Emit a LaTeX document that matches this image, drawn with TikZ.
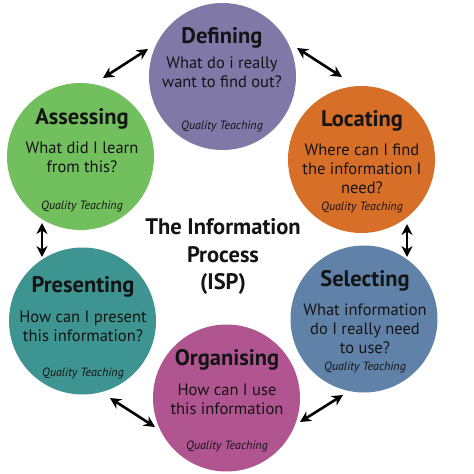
\documentclass[tikz,border=0pt]{standalone}
\usepackage{fontspec}
\setmainfont{PT Sans}
\usetikzlibrary{arrows.meta}
\definecolor{cdef}{HTML}{8079A8}
\definecolor{cass}{HTML}{72BF5D}
\definecolor{cloc}{HTML}{D86F28}
\definecolor{csel}{HTML}{6182A8}
\definecolor{corg}{HTML}{B05590}
\definecolor{cpre}{HTML}{3E9491}
\definecolor{ink}{HTML}{141414}
\begin{document}
\begin{tikzpicture}[x=1pt,y=-1pt,
  stage/.style={circle,minimum size=147pt,inner sep=0pt,fill=#1},
  ttl/.style={text=ink,inner sep=0pt,font=\bfseries\fontsize{22.5}{24}\selectfont},
  body/.style={text=ink,inner sep=0pt,align=center,font=\fontsize{16.5}{19}\selectfont},
  qt/.style={text=ink,inner sep=0pt,font=\itshape\fontsize{12}{14}\selectfont},
  center title/.style={text=ink,inner sep=0pt,align=center,font=\bfseries\fontsize{22.5}{27.5}\selectfont},
  dbl/.style={{Stealth[length=11pt,width=11pt]}-{Stealth[length=11pt,width=11pt]},line width=2.6pt}]
\useasboundingbox (0,0) rectangle (474,474);
\fill[white] (0,0) rectangle (474,474);
% circles
\node[stage=cdef] (def) at (222.5,76.5) {};
\node[stage=cass] (ass) at (80.5,156.5) {};
\node[stage=cloc] (loc) at (361.5,159.5) {};
\node[stage=cpre] (pre) at (82.5,321) {};
\node[stage=csel] (sel) at (364,319) {};
\node[stage=corg] (org) at (226.5,398) {};
% Defining
\node[ttl] (defT) at (222,38) {Defining};
\node[body] (defB) at (222,72.5) {What do i really\\want to find out?};
\node[qt] (defQ) at (222,126) {Quality Teaching};
% Assessing
\node[ttl] (assT) at (82,119) {Assessing};
\node[body] (assB) at (82,157.5) {What did I learn\\from this?};
\node[qt] (assQ) at (82,206) {Quality Teaching};
% Locating
\node[ttl] (locT) at (362,121) {Locating};
\node[body] (locB) at (362,169) {Where can I find\\the information I\\need?};
\node[qt] (locQ) at (362,207) {Quality Teaching};
% Presenting
\node[ttl] (preT) at (83,287) {Presenting};
\node[body] (preB) at (83,326) {How can I present\\this information?};
\node[qt] (preQ) at (83,373) {Quality Teaching};
% Selecting
\node[ttl] (selT) at (365,281) {Selecting};
\node[body] (selB) at (365,329) {What information\\do I really need\\to use?};
\node[qt] (selQ) at (365,367) {Quality Teaching};
% Organising
\node[ttl] (orgT) at (227,360) {Organising};
\node[body] (orgB) at (227,399) {How can I use\\this information};
\node[qt] (orgQ) at (227,446) {Quality Teaching};
% centre
\node[center title] (isp) at (223,256.5) {The Information\\Process\\(ISP)};
% arrow ends
\coordinate (a1) at (103,78);  \coordinate (b1) at (148,49);
\coordinate (a2) at (297,48);  \coordinate (b2) at (342,77);
\coordinate (a3) at (407,224); \coordinate (b3) at (407,257);
\coordinate (a4) at (343,395); \coordinate (b4) at (300,422);
\coordinate (a5) at (155,427); \coordinate (b5) at (110,398);
\coordinate (a6) at (42,257);  \coordinate (b6) at (42,223);
\draw[dbl] (a1) -- (b1);
\draw[dbl] (a2) -- (b2);
\draw[dbl] (a3) -- (b3);
\draw[dbl] (a4) -- (b4);
\draw[dbl] (a5) -- (b5);
\draw[dbl] (a6) -- (b6);
\end{tikzpicture}
\end{document}
